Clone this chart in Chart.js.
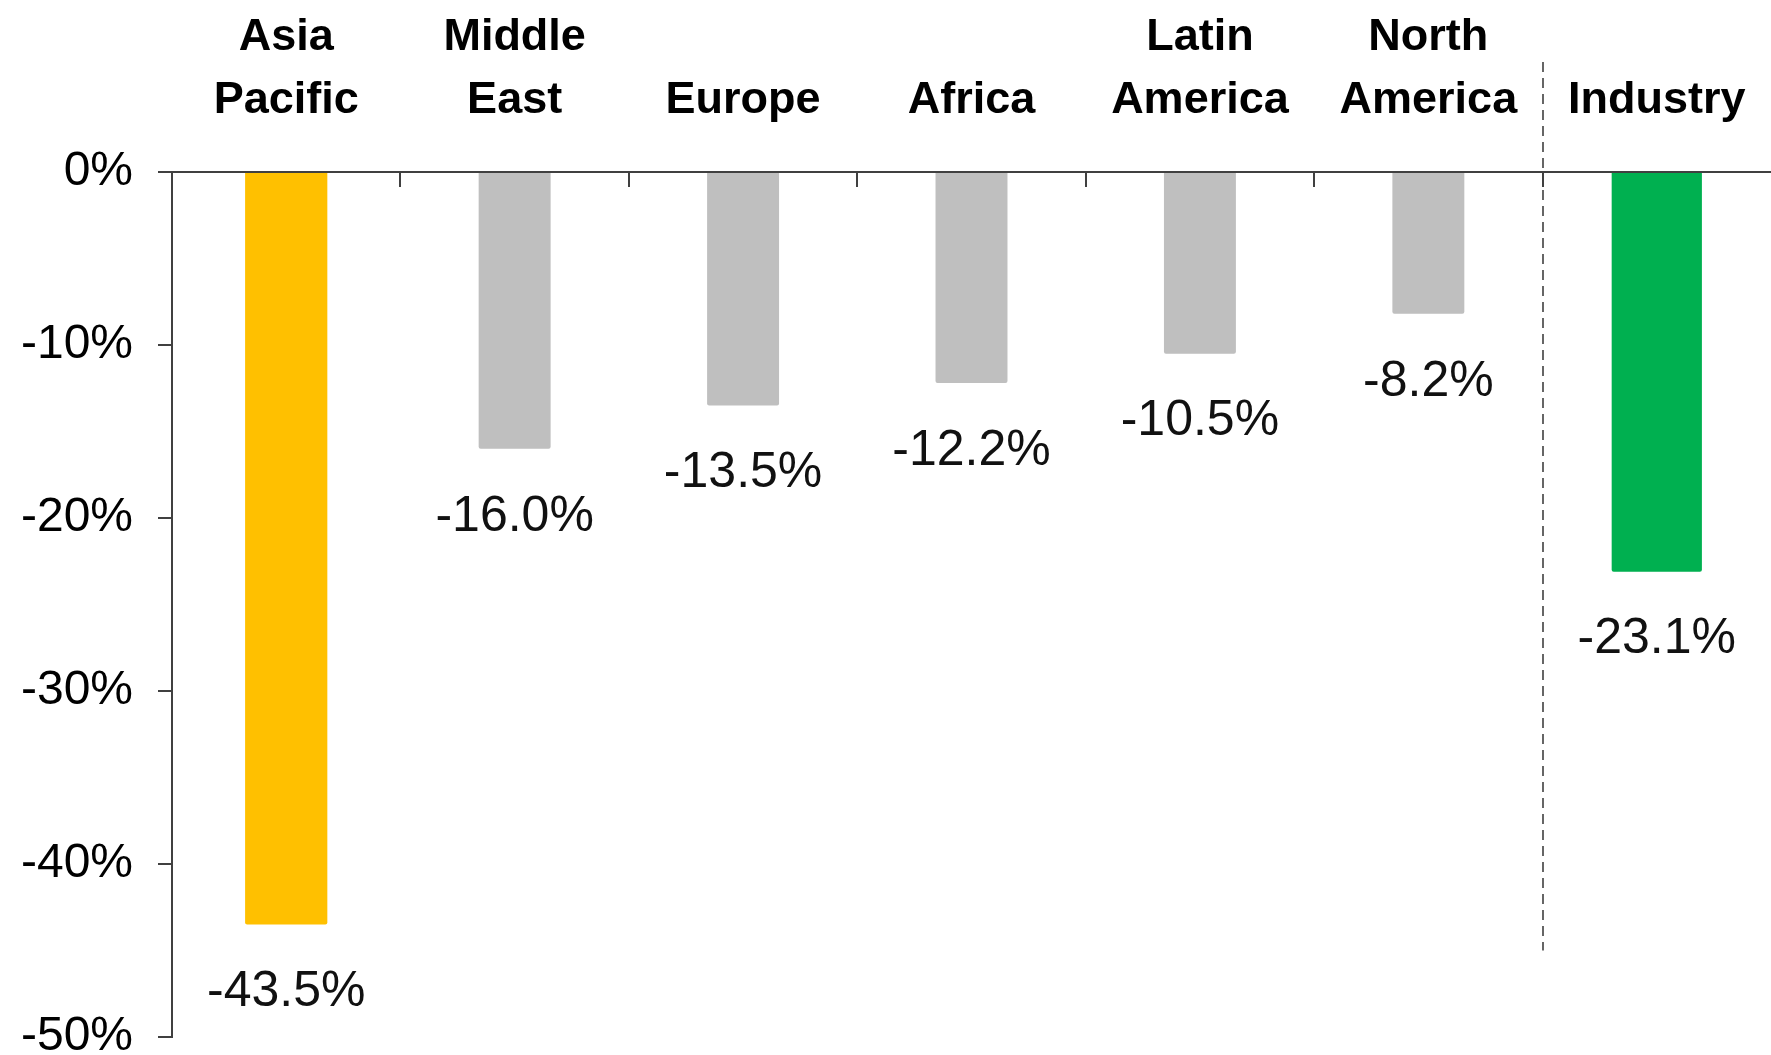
<!DOCTYPE html>
<html>
<head>
<meta charset="utf-8">
<script src="https://cdn.jsdelivr.net/npm/chart.js@4"></script>
<style>
  html, body { margin: 0; padding: 0; background: #ffffff; }
  #wrap { width: 1771px; height: 1055px; }
</style>
</head>
<body>
<div id="wrap"><canvas id="c" width="1771" height="1055"></canvas></div>
<script>
// ---- data ----
const categories = [['Asia', 'Pacific'], ['Middle', 'East'], ['Europe'], ['Africa'], ['Latin', 'America'], ['North', 'America'], ['Industry']];
const values = [-43.5, -16.0, -13.5, -12.2, -10.5, -8.2, -23.1];
const yTicks = [0, -10, -20, -30, -40, -50];
const highlightIndex = 0;   // Asia Pacific
const industryIndex = 6;    // Industry

// ---- styles ----
const COL_HI = '#FFC000';
const COL_GRAY = '#BFBFBF';
const COL_IND = '#00B050';
const AXIS = '#404040';

const pick = (cond) => values.map((v, i) => cond(i) ? v : null);

const datasets = [
  { data: pick(i => i === highlightIndex), backgroundColor: COL_HI, barPercentage: 0.36 },
  { data: pick(i => i !== highlightIndex && i !== industryIndex), backgroundColor: COL_GRAY, barPercentage: 0.315 },
  { data: pick(i => i === industryIndex), backgroundColor: COL_IND, barPercentage: 0.395 }
].map(d => Object.assign(d, { categoryPercentage: 1, grouped: false, borderRadius: 2, borderSkipped: 'start' }));

const valueLabels = {
  id: 'valueLabels',
  afterDatasetsDraw(chart) {
    const ctx = chart.ctx;
    ctx.save();
    ctx.font = '50px "Liberation Sans", Arial, sans-serif';
    ctx.fillStyle = '#111111';
    ctx.textAlign = 'center';
    ctx.textBaseline = 'middle';
    chart.data.datasets.forEach((ds, di) => {
      const meta = chart.getDatasetMeta(di);
      meta.data.forEach((el, i) => {
        const v = ds.data[i];
        if (v === null || v === undefined) return;
        ctx.fillText(v.toFixed(1) + '%', el.x, el.y + 68);
      });
    });
    ctx.restore();
  }
};

const decorations = {
  id: 'decorations',
  afterDraw(chart) {
    const ctx = chart.ctx;
    const xs = chart.scales.x, ys = chart.scales.y;
    const top = chart.chartArea.top;
    ctx.save();
    ctx.strokeStyle = AXIS;
    ctx.lineWidth = 2;
    // inward tick marks at category boundaries
    for (let i = 1; i < categories.length; i++) {
      const x = Math.round((xs.getPixelForValue(i - 1) + xs.getPixelForValue(i)) / 2);
      ctx.beginPath();
      ctx.moveTo(x, top);
      ctx.lineTo(x, top + 15);
      ctx.stroke();
    }
    // dashed divider before Industry
    const xd = Math.round((xs.getPixelForValue(industryIndex - 1) + xs.getPixelForValue(industryIndex)) / 2);
    ctx.setLineDash([10, 6]);
    ctx.lineWidth = 1.6;
    ctx.beginPath();
    ctx.moveTo(xd, top - 110);
    ctx.lineTo(xd, ys.getPixelForValue(-45));
    ctx.stroke();
    ctx.restore();
  }
};

new Chart(document.getElementById('c'), {
  type: 'bar',
  data: { labels: categories, datasets },
  options: {
    responsive: false,
    animation: false,
    devicePixelRatio: 1,
    layout: { autoPadding: false, padding: { top: 2, left: 18, right: 0, bottom: 18 } },
    plugins: { legend: { display: false }, tooltip: { enabled: false } },
    scales: {
      x: {
        position: 'top',
        grid: { display: false },
        border: { display: true, color: AXIS, width: 2 },
        afterFit(scale) { scale.height = 170; scale.paddingLeft = 0; scale.paddingRight = 0; },
        ticks: {
          color: '#000000',
          padding: 31,
          maxRotation: 0,
          autoSkip: false,
          font: { family: '"Liberation Sans", Arial, sans-serif', size: 45, weight: 'bold', lineHeight: 1.42 }
        }
      },
      y: {
        min: -50,
        max: 0,
        afterBuildTicks(scale) { scale.ticks = yTicks.map(v => ({ value: v })); },
        afterFit(scale) { scale.width = 154; scale.paddingTop = 0; scale.paddingBottom = 0; },
        grid: { drawOnChartArea: false, drawTicks: true, tickLength: 14, color: AXIS, lineWidth: 2 },
        border: { display: true, color: AXIS, width: 2 },
        ticks: {
          color: '#000000',
          padding: 25,
          font: { family: '"Liberation Sans", Arial, sans-serif', size: 48, lineHeight: 1 },
          callback: (v) => v + '%'
        }
      }
    }
  },
  plugins: [valueLabels, decorations]
});
</script>
</body>
</html>
